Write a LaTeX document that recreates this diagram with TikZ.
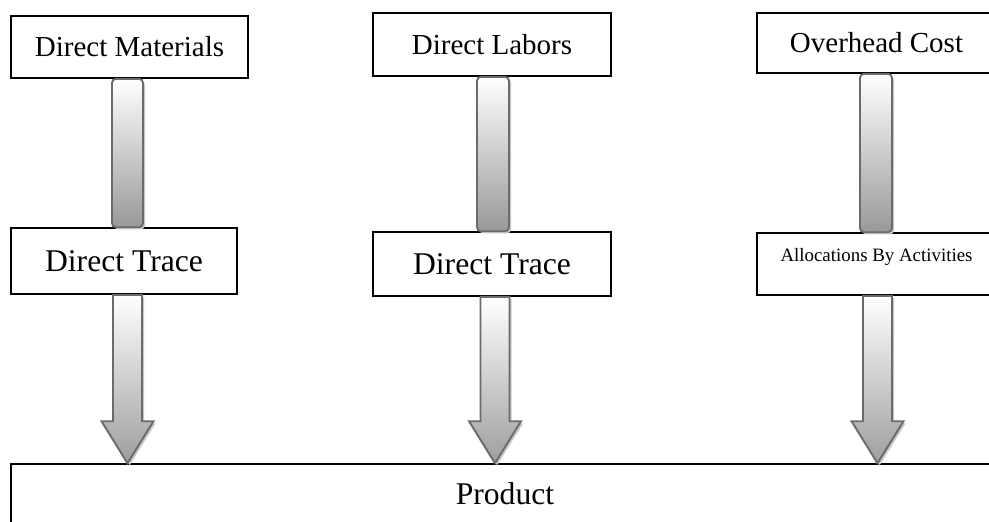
\documentclass[tikz,border=0pt]{standalone}
\usepackage{fontspec}
\setmainfont{Liberation Serif}
\usetikzlibrary{
  calc,
  shadows
}
\tikzset{
  box/.style={draw, line width=0.9pt, inner sep=0pt},
  bigtext/.style={font=\fontsize{18}{20}\selectfont},
  midtext/.style={font=\fontsize{16.5}{18}\selectfont},
  smalltext/.style={font=\fontsize{10.75}{12}\selectfont},
  greyshadow/.style={drop shadow={shadow xshift=1.2pt, shadow yshift=-1.2pt,
    fill=black!22, opacity=1}},
  linkbar/.style={draw=black!58, line width=1.1pt, rounded corners=2.3pt,
    top color=white, bottom color=black!40, greyshadow},
  arrowbody/.style={draw=black!58, line width=1.1pt,
    top color=white, bottom color=black!38, greyshadow}
}
% hollow down arrow: from node, to node, x position
\newcommand{\flowarrow}[3]{%
  \path[arrowbody] (#3-14.5,0 |- #1.south) -- (#3+14.5,0 |- #1.south)
    -- ($(#3,0 |- #2.north)+(14.5,-42)$) -- ($(#3,0 |- #2.north)+(26,-42)$)
    -- (#3,0 |- #2.north) -- ($(#3,0 |- #2.north)+(-26,-42)$)
    -- ($(#3,0 |- #2.north)+(-14.5,-42)$) -- cycle;}

\begin{document}
\begin{tikzpicture}[x=0.02cm, y=-0.02cm]
    \useasboundingbox (0,0) rectangle (989,521);
    \clip (0,0) rectangle (989,521);
    % top row
    \node[box, midtext, minimum width=4.74cm, minimum height=1.24cm] (dm) at (129.5,47) {Direct Materials};
    \node[box, midtext, minimum width=4.76cm, minimum height=1.26cm] (dl) at (492,44.5) {Direct Labors};
    \node[box, midtext, minimum width=4.78cm, minimum height=1.2cm] (oc) at (876.5,43) {Overhead Cost};
    % middle row
    \node[box, bigtext, minimum width=4.52cm, minimum height=1.32cm] (dt1) at (124,261) {Direct Trace};
    \node[box, bigtext, minimum width=4.76cm, minimum height=1.28cm] (dt2) at (492,264) {Direct Trace};
    \node[box, smalltext, minimum width=4.78cm, minimum height=1.24cm,
      text height=8pt, text depth=11.2pt] (ab) at (876.5,264) {Allocations By Activities};
    % bottom
    \node[box, bigtext, minimum width=19.76cm, minimum height=1.2cm] (pr) at (505,494) {Product};
    % bars
    \path[linkbar] (112,0 |- dm.south) rectangle (143,0 |- dt1.north);
    \path[linkbar] (477,0 |- dl.south) rectangle (509,0 |- dt2.north);
    \path[linkbar] (860,0 |- oc.south) rectangle (892,0 |- ab.north);
    % arrows
    \flowarrow{dt1}{pr}{127.5}
    \flowarrow{dt2}{pr}{495}
    \flowarrow{ab}{pr}{877.5}
\end{tikzpicture}
\end{document}
